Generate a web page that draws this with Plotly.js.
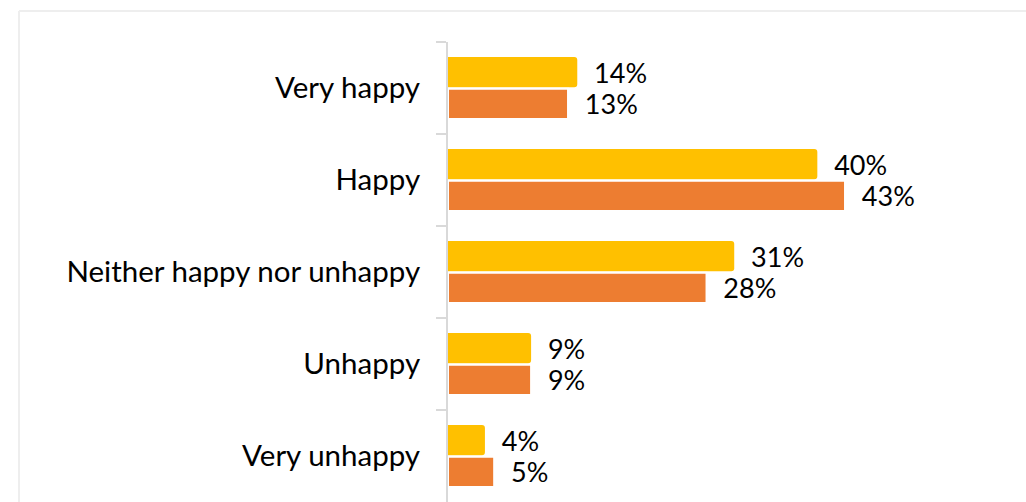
<!DOCTYPE html>
<html>
<head>
<meta charset="utf-8">
<script src="https://cdn.plot.ly/plotly-3.0.1.min.js"></script>
<style>
  html, body { margin: 0; padding: 0; background: #ffffff; }
  #chart { width: 1026px; height: 502px; }
</style>
</head>
<body>
<div id="chart"></div>
<script>
const categories = ["Very happy", "Happy", "Neither happy nor unhappy", "Unhappy", "Very unhappy"];
const seriesA = [14, 40, 31, 9, 4];
const seriesB = [13, 43, 28, 9, 5];
const seriesAName = "Series A";
const seriesBName = "Series B";

const W = 1026, H = 502;
const margin = { l: 448, r: 24, t: 42, b: 0 };
const plotW = W - margin.l - margin.r;
const plotH = H - margin.t - margin.b;
const px2x = p => (p - margin.l) / plotW;
const px2y = p => 1 - (p - margin.t) / plotH;

const dataFont = { family: "Lato, 'Open Sans', sans-serif", size: 27, color: "#000000" };
const tickFont = { family: "Lato, 'Open Sans', sans-serif", size: 29.5, color: "#000000" };

const traceA = {
  type: "bar", orientation: "h", name: seriesAName,
  y: categories, x: seriesA,
  marker: { color: "#FFC000", cornerradius: 3, line: { width: 0 } },
  text: seriesA.map(v => "\u00a0\u00a0" + v + "%"),
  texttemplate: "%{text}",
  textposition: "outside", constraintext: "none", cliponaxis: false,
  textfont: dataFont, hoverinfo: "skip"
};
const traceB = {
  type: "bar", orientation: "h", name: seriesBName,
  y: categories, x: seriesB,
  marker: { color: "#ED7D31", line: { color: "#ffffff", width: 2 } },
  text: seriesB.map(v => "\u00a0\u00a0" + v + "%"),
  texttemplate: "%{text}",
  textposition: "outside", constraintext: "none", cliponaxis: false,
  textfont: dataFont, hoverinfo: "skip"
};

const layout = {
  width: W, height: H,
  margin: margin,
  paper_bgcolor: "#ffffff", plot_bgcolor: "#ffffff",
  showlegend: false,
  barmode: "group", bargap: 0.31, bargroupgap: 0.04,
  font: dataFont,
  xaxis: {
    range: [0, 60], showgrid: false, zeroline: false, showline: false,
    showticklabels: false, ticks: "", fixedrange: true
  },
  yaxis: {
    autorange: "reversed", type: "category",
    showgrid: false, zeroline: false,
    showline: true, linecolor: "#d9d9d9", linewidth: 2,
    ticks: "outside", tickson: "boundaries", ticklen: 10, tickwidth: 2, tickcolor: "#d9d9d9",
    ticklabelstandoff: 20,
    tickfont: tickFont, fixedrange: true
  },
  shapes: [
    { type: "line", xref: "paper", yref: "paper",
      x0: px2x(19), x1: px2x(1030), y0: px2y(11), y1: px2y(11),
      line: { color: "#eeeeee", width: 2 }, layer: "below" },
    { type: "line", xref: "paper", yref: "paper",
      x0: px2x(19), x1: px2x(19), y0: px2y(11), y1: px2y(510),
      line: { color: "#eeeeee", width: 2 }, layer: "below" }
  ]
};

Plotly.newPlot("chart", [traceA, traceB], layout, { displayModeBar: false, staticPlot: true });
</script>
</body>
</html>
